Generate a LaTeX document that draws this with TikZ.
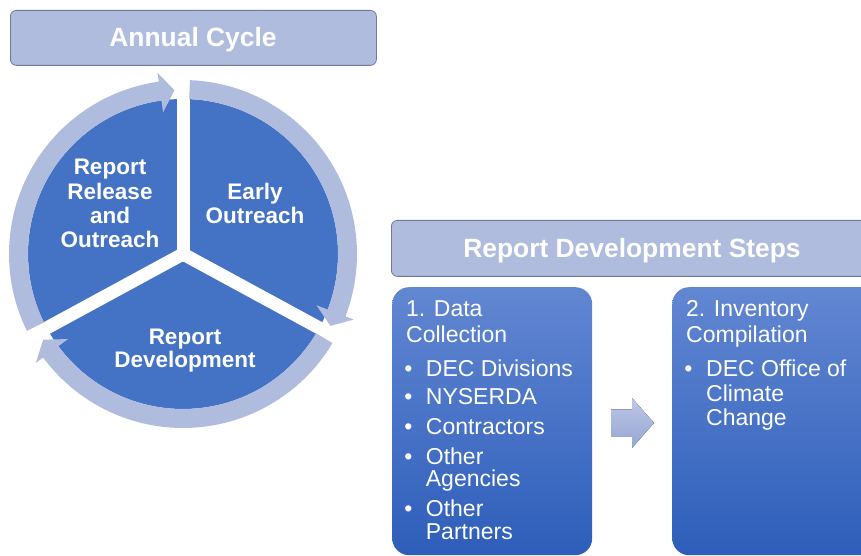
\documentclass[tikz,border=0pt]{standalone}
\usepackage{fontspec}
\setmainfont{Liberation Sans}
\definecolor{paleblue}{RGB}{176,188,222}
\definecolor{hdrborder}{RGB}{112,122,150}
\definecolor{pieblue}{RGB}{68,114,196}
\definecolor{boxtop}{RGB}{98,135,210}
\definecolor{boxbot}{RGB}{46,94,186}
\definecolor{arrtop}{RGB}{188,199,231}
\definecolor{arrbot}{RGB}{150,166,212}
\begin{document}
\begin{tikzpicture}[x=1pt,y=1pt,
  hdr/.style={draw=hdrborder, line width=0.8pt, fill=paleblue, rounded corners=6pt, anchor=north west},
  ttl/.style={font=\fontsize{26.4}{30}\selectfont\bfseries, text=white, inner sep=0pt, anchor=base},
  clbl/.style={font=\fontsize{22.5}{24}\selectfont\bfseries, text=white, inner sep=0pt, anchor=base},
  btxt/.style={font=\fontsize{23}{25}\selectfont, text=white, inner sep=0pt, anchor=base west},
  bul/.style={font=\fontsize{23}{25}\selectfont, text=white, inner sep=0pt, anchor=base},
  stepbox/.style={rounded corners=17pt, top color=boxtop, bottom color=boxbot, draw=none, anchor=north west, inner sep=0pt},
  ring/.style={fill=paleblue}]
\useasboundingbox (0,0) rectangle (861,556);
\clip (0,0) rectangle (861,556);

% header boxes
\node[hdr, minimum width=366pt, minimum height=55pt] (ac) at (10,546) {};
\node[ttl] (actxt) at (193,509) {Annual Cycle};
\node[hdr, minimum width=482pt, minimum height=56pt] (rds) at (391,336) {};
\node[ttl] (rdstxt) at (632,298) {Report Development Steps};

% cycle
\begin{scope}[shift={(183,302)}]
  \fill[pieblue] (0,0) circle[radius=155];
  \foreach \a in {90,208.5,331.5} \draw[white, line width=13pt] (0,0) -- (\a:188);
  % ring arrows: start s, base b, tip t
  \foreach \s/\b/\t in {206.2/98/93, 87.7/-21/-26, -30.8/-143.5/-148.5}{
    \fill[ring] (\s:174) arc[start angle=\s, end angle=\b, radius=174]
      -- (\b:183) -- (\t:164) -- (\b:143) -- (\b:155)
      arc[start angle=\b, end angle=\s, radius=155] -- cycle;
  }
\end{scope}

% cycle labels
\node[clbl] (l1) at (110,381) {Report};
\node[clbl] (l2) at (110,356.5) {Release};
\node[clbl] (l3) at (110,332.5) {and};
\node[clbl] (l4) at (110,308) {Outreach};
\node[clbl] (e1) at (255,356) {Early};
\node[clbl] (e2) at (255,332) {Outreach};
\node[clbl] (d1) at (185,211) {Report};
\node[clbl] (d2) at (185,188) {Development};

% step boxes
\node[stepbox, minimum width=200pt, minimum height=268pt] (b1) at (392,269) {};
\node[stepbox, minimum width=220pt, minimum height=268pt] (b2) at (672,269) {};

% block arrow
\fill[top color=arrtop, bottom color=arrbot]
  (611,146.5) -- (632,146.5) -- (632,158) -- (654,133) -- (632,108) -- (632,119.5) -- (611,119.5) -- cycle;

% box 1 text
\node[btxt] (h1a) at (406,239) {1. Data};
\node[btxt] (h1b) at (406,213.5) {Collection};
\node[bul] (u1) at (408.5,179.3) {•};
\node[btxt] (t1) at (425.7,179.3) {DEC Divisions};
\node[bul] (u2) at (408.5,151) {•};
\node[btxt] (t2) at (425.7,151) {NYSERDA};
\node[bul] (u3) at (408.5,121) {•};
\node[btxt] (t3) at (425.7,121) {Contractors};
\node[bul] (u4) at (408.5,91) {•};
\node[btxt] (t4a) at (425.7,91) {Other};
\node[btxt] (t4b) at (425.7,69.3) {Agencies};
\node[bul] (u5) at (408.5,39.3) {•};
\node[btxt] (t5a) at (425.7,39.3) {Other};
\node[btxt] (t5b) at (425.7,16) {Partners};

% box 2 text
\node[btxt] (h2a) at (686,239) {2. Inventory};
\node[btxt] (h2b) at (686,213.5) {Compilation};
\node[bul] (v1) at (688.5,179.3) {•};
\node[btxt] (s1a) at (706,179.3) {DEC Office of};
\node[btxt] (s1b) at (706,154.8) {Climate};
\node[btxt] (s1c) at (706,130.5) {Change};
\end{tikzpicture}
\end{document}
